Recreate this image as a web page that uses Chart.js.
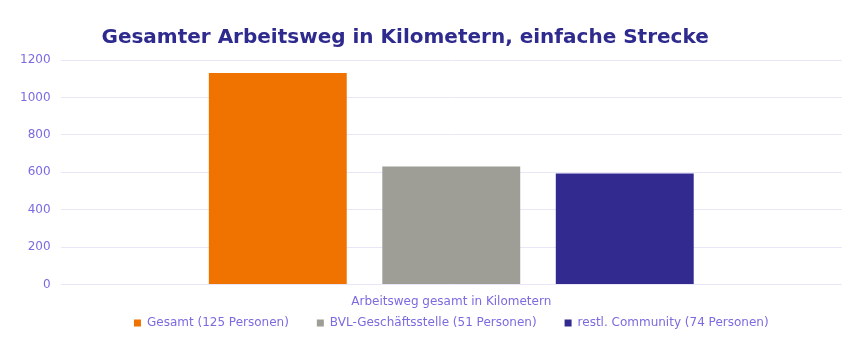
<!DOCTYPE html>
<html>
<head>
<meta charset="utf-8">
<script src="https://cdn.jsdelivr.net/npm/chart.js@4/dist/chart.umd.min.js"></script>
<style>
  html, body { margin: 0; padding: 0; background: #fff; }
  #wrap { width: 865px; height: 347px; }
</style>
</head>
<body>
<div id="wrap"><canvas id="arbeitsweg"></canvas></div>
<script>
// km one way, summed per group
var categories = ['Arbeitsweg gesamt in Kilometern'];
var seriesNames = ['Gesamt (125 Personen)', 'BVL-Geschäftsstelle (51 Personen)', 'restl. Community (74 Personen)'];
var gesamt = [1130];
var geschaeftsstelle = [631];
var community = [594];
var seriesColors = ['#F07300', '#9E9E96', '#322A8F'];

var tickColor = '#7A6BE0';
var gridColor = '#E8E6F7';
var legendGap = 28;

var datasets = [gesamt, geschaeftsstelle, community].map(function(values, i) {
    return {
        label: seriesNames[i],
        data: values,
        backgroundColor: seriesColors[i],
        borderWidth: 0,
        categoryPercentage: 0.666,
        barPercentage: 0.795
    };
});

new Chart(document.getElementById('arbeitsweg'), {
    type: 'bar',
    data: { labels: categories, datasets: datasets },
    options: {
        responsive: true,
        maintainAspectRatio: false,
        animation: false,
        layout: { padding: { top: 26, right: 23, left: 10, bottom: 8 } },
        plugins: {
            tooltip: { enabled: false },
            title: {
                display: true,
                // trailing spaces keep the heading a little left of centre
                text: 'Gesamter Arbeitsweg in Kilometern, einfache Strecke      ',
                color: '#2E2A8E',
                font: { family: 'DejaVu Sans', size: 20, weight: 'bold' },
                padding: { top: 0, bottom: 10 }
            },
            legend: {
                position: 'bottom',
                fullSize: false,
                // empty title with negative padding pulls the row up,
                // so the wide item gap does not add vertical space
                title: { display: true, text: '', padding: { top: -(legendGap + 8.4), bottom: 0 }, font: { size: 12 } },
                labels: {
                    color: tickColor,
                    boxWidth: 7,
                    boxHeight: 7,
                    padding: legendGap,
                    font: { family: 'DejaVu Sans', size: 12 }
                }
            }
        },
        scales: {
            x: {
                grid: { display: false },
                border: { display: false },
                ticks: { color: tickColor, font: { family: 'DejaVu Sans', size: 12 }, padding: 2 }
            },
            y: {
                min: 0,
                max: 1200,
                ticks: {
                    stepSize: 200,
                    color: tickColor,
                    font: { family: 'DejaVu Sans', size: 12 },
                    padding: 10,
                    callback: function(v) { return String(v); }
                },
                grid: { color: gridColor, drawTicks: false },
                border: { display: false }
            }
        }
    }
});
</script>
</body>
</html>
